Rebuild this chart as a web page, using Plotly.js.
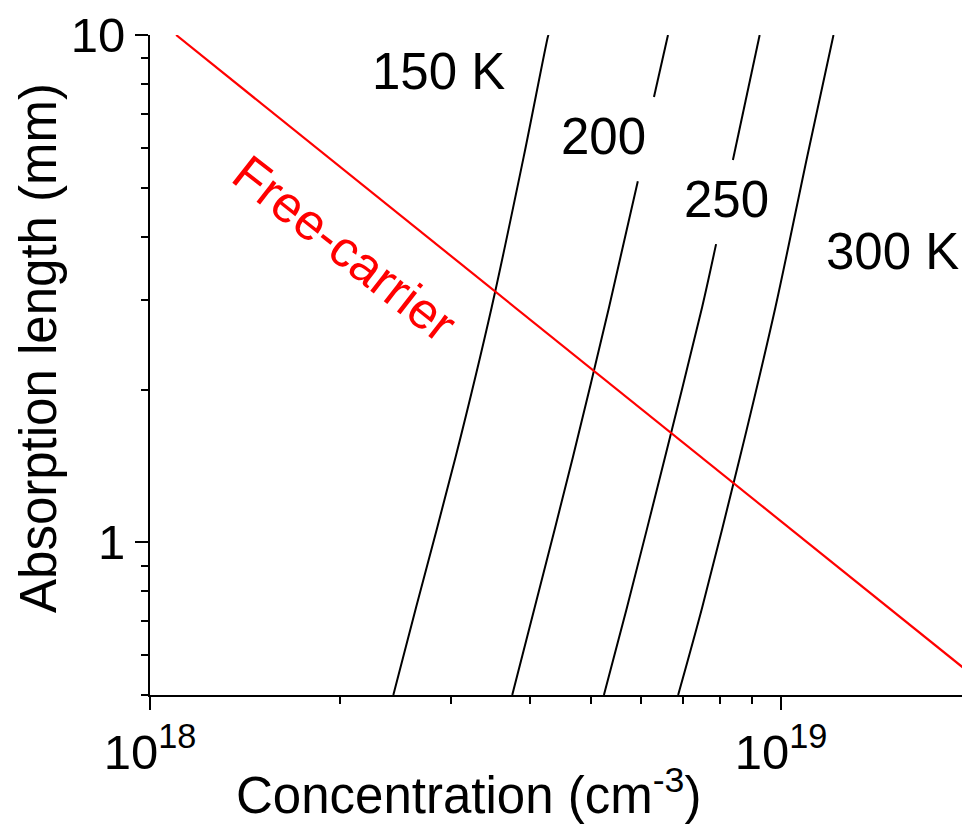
<!DOCTYPE html>
<html>
<head>
<meta charset="utf-8">
<script src="https://cdn.plot.ly/plotly-3.0.1.min.js"></script>
<style>
  html, body { margin: 0; padding: 0; background: #fff; }
  #chart { width: 963px; height: 824px; }
</style>
</head>
<body>
<div id="chart"></div>
<script>
// ---- data (concentration in cm^-3, absorption length in mm) ----
var freeCarrierX = [1.1e18, 2.0e19];
var freeCarrierY = [10, 0.55];

var t150X = [4.28e18, 4.27e18, 3.91e18, 3.48e18, 3.05e18, 2.64e18, 2.43e18];
var t150Y = [10, 9.91, 5.75, 2.91, 1.472, 0.744, 0.5];

var t200X = [6.62e18, 6.29e18, null, 5.93e18, 5.34e18, 4.68e18, 4.07e18, 3.75e18];
var t200Y = [10, 7.55, null, 5.15, 2.91, 1.472, 0.744, 0.5];

var t250X = [9.25e18, 8.39e18, null, 7.89e18, 7.50e18, 6.55e18, 5.70e18, 5.24e18];
var t250Y = [10, 5.67, null, 3.87, 2.91, 1.472, 0.744, 0.5];

var t300X = [1.211e19, 1.100e19, 9.80e18, 8.61e18, 7.50e18, 6.87e18];
var t300Y = [10, 5.75, 2.91, 1.472, 0.744, 0.5];

var labels = ["150 K", "200", "250", "300 K"];
var xTitle = "Concentration (cm<sup>-3</sup>)";
var yTitle = "Absorption length (mm)";
var curveLabel = "Free-carrier";
var xTickVals = [1e18, 1e19];
var xTickText = ["10<sup>18</sup>", "10<sup>19</sup>"];
var xMinorVals = [2e18, 3e18, 4e18, 5e18, 6e18, 7e18, 8e18, 9e18];
var yTickVals = [1, 10];
var yTickText = ["1", "10"];
var yMinorVals = [0.5, 0.6, 0.7, 0.8, 0.9, 2, 3, 4, 5, 6, 7, 8, 9];

var FONT = "Arial, 'Liberation Sans', sans-serif";

function blackLine(x, y) {
  return { x: x, y: y, type: "scatter", mode: "lines", connectgaps: false,
           line: { color: "#000", width: 2, shape: "spline", smoothing: 0.8 },
           hoverinfo: "skip", showlegend: false };
}

var traces = [
  blackLine(t150X, t150Y),
  blackLine(t200X, t200Y),
  blackLine(t250X, t250Y),
  blackLine(t300X, t300Y),
  { x: freeCarrierX, y: freeCarrierY, type: "scatter", mode: "lines",
    line: { color: "#ff0000", width: 2.2 }, showlegend: false, hoverinfo: "skip" }
];

function lab(text, x, y, color, angle, size) {
  return { text: text, xref: "paper", yref: "paper", x: x, y: y,
           xanchor: "center", yanchor: "middle", showarrow: false,
           textangle: angle || 0,
           font: { family: FONT, size: size || 51, color: color || "#000" } };
}

var layout = {
  width: 963, height: 824,
  margin: { l: 150, r: 1, t: 35, b: 129, pad: 0 },
  paper_bgcolor: "#fff", plot_bgcolor: "#fff",
  font: { family: FONT, size: 49, color: "#000" },
  showlegend: false,
  xaxis: {
    type: "log", range: [18, 19.2868],
    showgrid: false, zeroline: false,
    showline: true, linecolor: "#000", linewidth: 2,
    ticks: "outside", ticklen: 13, tickwidth: 2, tickcolor: "#000",
    tickmode: "array", tickvals: xTickVals, ticktext: xTickText,
    tickfont: { family: FONT, size: 49, color: "#000" },
    minor: { tickmode: "array", tickvals: xMinorVals, ticks: "outside",
             ticklen: 7, tickwidth: 2, tickcolor: "#000", showgrid: false }
  },
  yaxis: {
    type: "log", range: [Math.log10(0.5), 1],
    showgrid: false, zeroline: false,
    showline: true, linecolor: "#000", linewidth: 2,
    ticks: "outside", ticklen: 13, tickwidth: 2, tickcolor: "#000",
    tickmode: "array", tickvals: yTickVals, ticktext: yTickText,
    tickfont: { family: FONT, size: 49, color: "#000" },
    minor: { tickmode: "array", tickvals: yMinorVals, ticks: "outside",
             ticklen: 7, tickwidth: 2, tickcolor: "#000", showgrid: false }
  },
  annotations: [
    lab(labels[0], 0.3547, 0.944),
    lab(labels[1], 0.5585, 0.8462),
    lab(labels[2], 0.710, 0.7515),
    lab(labels[3], 0.9138, 0.672),
    lab(curveLabel, (345 - 150) / 812, (695 - 248) / 660, "#ff0000", 38),
    lab(xTitle, (468 - 150) / 812, (695 - 792) / 660, "#000", 0, 51),
    lab(yTitle, (38 - 150) / 812, (695 - 348) / 660, "#000", -90, 51)
  ]
};

Plotly.newPlot("chart", traces, layout, { staticPlot: true, displayModeBar: false });
</script>
</body>
</html>
